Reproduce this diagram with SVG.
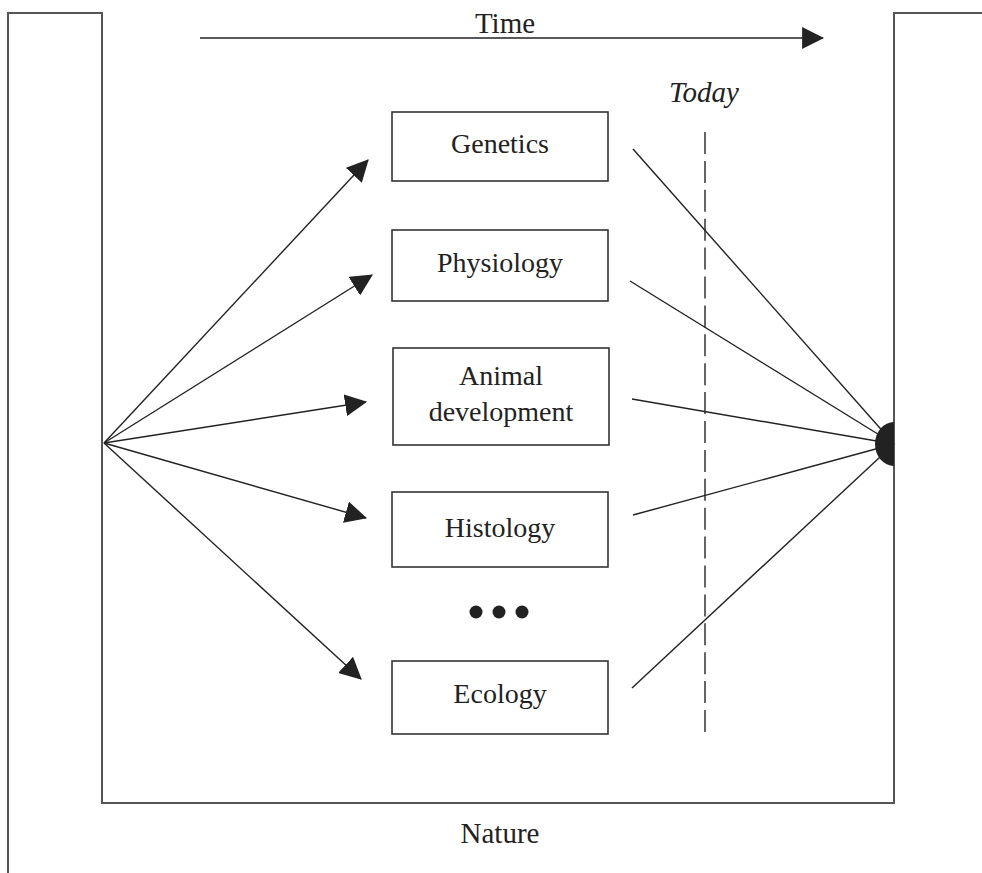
<svg xmlns="http://www.w3.org/2000/svg" width="982" height="873" viewBox="0 0 982 873">
<style>
.frame{fill:none;stroke:#555;stroke-width:2}
.box{fill:#fff;stroke:#333;stroke-width:1.6}
.lbl{font-family:"Liberation Serif","Times New Roman",serif;font-size:28px;fill:#222;text-anchor:middle}
.conn{stroke:#222;stroke-width:1.4;fill:none}
.arr{stroke:#222;stroke-width:1.4;fill:none;marker-end:url(#ah)}
</style>
<defs>
<marker id="ah" markerUnits="userSpaceOnUse" markerWidth="22" markerHeight="22" viewBox="0 0 20 20" refX="19" refY="10" orient="auto">
<path d="M0,0 L20,10 L0,20 Z" fill="#222"/>
</marker>
<clipPath id="half"><rect x="860" y="410" width="34" height="70"/></clipPath>
</defs>
<g id="frame">
<polyline class="frame" points="8,873 8,13 102,13 102,803 894,803 894,13 982,13"/>
</g>
<g id="time">
<line class="arr" x1="200" y1="38" x2="823" y2="38"/>
<text class="lbl" x="505" y="33" style="font-size:29px">Time</text>
</g>
<g id="today">
<text class="lbl" x="704" y="102" style="font-size:29px;font-style:italic">Today</text>
<line x1="705" y1="132" x2="705" y2="732" stroke="#333" stroke-width="1.5" stroke-dasharray="22 6.9"/>
</g>
<g id="connectors">
<line class="arr" x1="104" y1="443" x2="368" y2="160"/>
<line class="arr" x1="104" y1="443" x2="372" y2="275"/>
<line class="arr" x1="104" y1="443" x2="366" y2="402"/>
<line class="arr" x1="104" y1="443" x2="366" y2="518"/>
<line class="arr" x1="104" y1="443" x2="361" y2="679"/>
<line class="conn" x1="633" y1="149" x2="894" y2="444"/>
<line class="conn" x1="630" y1="281" x2="894" y2="444"/>
<line class="conn" x1="632" y1="399" x2="894" y2="444"/>
<line class="conn" x1="633" y1="515" x2="894" y2="444"/>
<line class="conn" x1="632" y1="688" x2="894" y2="444"/>
</g>
<g id="genetics">
<rect class="box" x="392" y="112" width="216" height="69"/>
<text class="lbl" x="500" y="153">Genetics</text>
</g>
<g id="physiology">
<rect class="box" x="392" y="230" width="216" height="71"/>
<text class="lbl" x="500" y="272">Physiology</text>
</g>
<g id="animal-development">
<rect class="box" x="393" y="348" width="216" height="97"/>
<text class="lbl" x="501" y="385">Animal</text>
<text class="lbl" x="501" y="421">development</text>
</g>
<g id="histology">
<rect class="box" x="392" y="492" width="216" height="75"/>
<text class="lbl" x="500" y="537">Histology</text>
</g>
<g id="dots">
<circle cx="476" cy="612" r="6.5" fill="#222"/>
<circle cx="499" cy="612" r="6.5" fill="#222"/>
<circle cx="522" cy="612" r="6.5" fill="#222"/>
</g>
<g id="ecology">
<rect class="box" x="392" y="661" width="216" height="73"/>
<text class="lbl" x="500" y="703">Ecology</text>
</g>
<g id="target">
<ellipse cx="894" cy="444" rx="19" ry="22" fill="#222" clip-path="url(#half)"/>
</g>
<g id="nature">
<text class="lbl" x="500" y="843" style="font-size:29px">Nature</text>
</g>
</svg>
